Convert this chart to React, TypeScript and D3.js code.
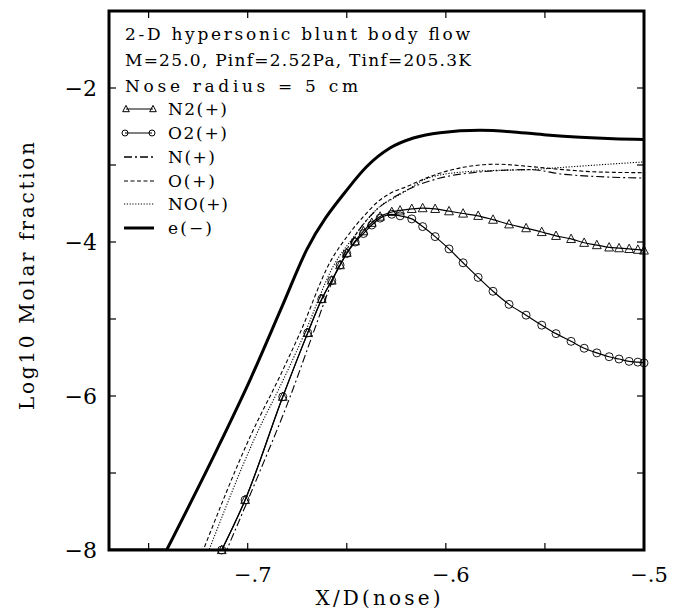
import React from 'react';
import * as d3 from 'd3';

const W = 675;
const H = 614;

// Shared grid (N2(+), O2(+) markers)
const gridX = [-0.7131, -0.7013, -0.6823, -0.6697, -0.6626, -0.6576, -0.6534, -0.6500, -0.6458, -0.6416, -0.6374, -0.6332, -0.6273, -0.6231, -0.6172, -0.6117, -0.6054, -0.5984, -0.5913, -0.5837, -0.5762, -0.5681, -0.5595, -0.5516, -0.5444, -0.5368, -0.5302, -0.5238, -0.5176, -0.5126, -0.5075, -0.5031, -0.5000];
const n2Y = [-8.0, -7.35, -6.01, -5.18, -4.74, -4.50, -4.30, -4.14, -3.99, -3.86, -3.75, -3.67, -3.61, -3.59, -3.57, -3.56, -3.57, -3.60, -3.63, -3.66, -3.71, -3.77, -3.82, -3.87, -3.92, -3.96, -4.01, -4.04, -4.07, -4.08, -4.09, -4.10, -4.11];
const o2Y = [-8.0, -7.35, -6.01, -5.18, -4.74, -4.50, -4.30, -4.15, -4.00, -3.89, -3.78, -3.69, -3.64, -3.66, -3.70, -3.80, -3.93, -4.09, -4.27, -4.46, -4.64, -4.81, -4.95, -5.08, -5.19, -5.29, -5.38, -5.44, -5.49, -5.52, -5.55, -5.56, -5.57];

const nX = [-0.7700, -0.7106, -0.6950, -0.6786, -0.6669, -0.6584, -0.6500, -0.6420, -0.6340, -0.6250, -0.6150, -0.6029, -0.5827, -0.5575, -0.5408, -0.5238, -0.5000];
const nY = [-8.0, -8.0, -7.05, -6.01, -5.18, -4.58, -4.10, -3.78, -3.56, -3.40, -3.27, -3.17, -3.09, -3.06, -3.12, -3.15, -3.17];

const oX = [-0.7700, -0.7224, -0.6988, -0.6837, -0.6736, -0.6584, -0.6490, -0.6416, -0.6340, -0.6282, -0.6197, -0.6080, -0.5912, -0.5743, -0.5575, -0.5407, -0.5238, -0.5000];
const oY = [-8.0, -8.0, -6.53, -5.74, -5.18, -4.26, -3.90, -3.67, -3.47, -3.37, -3.28, -3.15, -3.03, -2.99, -3.02, -3.06, -3.09, -3.10];

const noX = [-0.7700, -0.7195, -0.6965, -0.6815, -0.6715, -0.6565, -0.6470, -0.6400, -0.6330, -0.6270, -0.6197, -0.6100, -0.5912, -0.5743, -0.5575, -0.5407, -0.5238, -0.5000];
const noY = [-8.0, -8.0, -6.55, -5.76, -5.20, -4.30, -3.95, -3.72, -3.53, -3.44, -3.33, -3.18, -3.09, -3.07, -3.06, -3.03, -3.00, -2.96];

const eX = [-0.7700, -0.7409, -0.7156, -0.6988, -0.6827, -0.6702, -0.6492, -0.6399, -0.6282, -0.6164, -0.6029, -0.5827, -0.5659, -0.5491, -0.5322, -0.5154, -0.5000];
const eY = [-8.0, -8.0, -6.70, -5.79, -4.84, -4.10, -3.30, -3.02, -2.78, -2.65, -2.58, -2.55, -2.57, -2.61, -2.64, -2.66, -2.67];

const yTickLabels = [-2, -4, -6, -8];
const yTicks = [-7, -6, -5, -4, -3, -2];
const xTickLabels = [-0.7, -0.6, -0.5];
const xTicks = [-0.75, -0.7, -0.65, -0.6, -0.55];

const titleLines = ['2-D hypersonic blunt body flow', 'M=25.0, Pinf=2.52Pa, Tinf=205.3K', 'Nose radius = 5 cm'];
const titleWidths = [345, 346, 233];
const legendLabels = ['N2(+)', 'O2(+)', 'N(+)', 'O(+)', 'NO(+)', 'e(\u2212)'];
const legendWidths = [59, 59, 47, 47, 60, 44];

const FONT = 'DejaVu Serif';

export default function App() {
  const x = d3.scaleLinear().domain([-0.77, -0.5]).range([109, 644]);
  const y = d3.scaleLinear().domain([-8, -1]).range([550, 11]);
  const line = d3.line<[number, number]>().x(d => x(d[0])).y(d => y(d[1])).curve(d3.curveMonotoneX);
  const zip = (xs: number[], ys: number[]) => xs.map((v, i) => [v, ys[i]] as [number, number]);

  // flat (clamped at -8) lead-in drawn straight, rest smooth
  const seriesPath = (xs: number[], ys: number[]) => {
    const pts = zip(xs, ys);
    if (pts.length > 2 && ys[0] === ys[1]) {
      const rest = line(pts.slice(1)) || '';
      return `M${x(pts[0][0])},${y(pts[0][1])}L` + rest.substring(1);
    }
    return line(pts) || '';
  };

  const n2 = zip(gridX, n2Y);
  const o2 = zip(gridX, o2Y);
  const tri = (cx: number, cy: number, s: number) =>
    `M${cx},${cy - s * 0.6}L${cx + s * 0.55},${cy + s * 0.45}L${cx - s * 0.55},${cy + s * 0.45}Z`;

  const baselines = [40, 66, 92, 115, 139, 163, 187, 210, 234];

  const fmtX = (v: number) => '\u2212.' + Math.round(Math.abs(v) * 10);

  return (
    <svg width={W} height={H} style={{ position: 'absolute', left: 0, top: 0, background: '#fff' }} fontFamily={FONT}>
      <rect x={0} y={0} width={W} height={H} fill="#fff" />
      <defs>
        <clipPath id="plot">
          <rect x={109} y={11} width={535} height={539} />
        </clipPath>
      </defs>
      <g clipPath="url(#plot)" fill="none" stroke="#000">
        <path d={seriesPath(eX, eY)} strokeWidth={3} />
        <path d={seriesPath(oX, oY)} strokeWidth={1.1} strokeDasharray="4,2.5" />
        <path d={seriesPath(noX, noY)} strokeWidth={1.1} strokeDasharray="1.2,1.6" />
        <path d={seriesPath(nX, nY)} strokeWidth={1.1} strokeDasharray="8,3,2,3" />
        <path d={line(o2) || ''} strokeWidth={1.2} />
        <path d={line(n2) || ''} strokeWidth={1.2} />
      </g>
      <g fill="none" stroke="#000" strokeWidth={0.9}>
        {o2.map((d, i) => (
          <circle key={'c' + i} cx={x(d[0])} cy={y(d[1])} r={4} />
        ))}
        {n2.map((d, i) => (
          <path key={'t' + i} d={tri(x(d[0]), y(d[1]), 8)} />
        ))}
      </g>
      {/* frame */}
      <rect x={109} y={11} width={535} height={539} fill="none" stroke="#000" strokeWidth={3} />
      <g stroke="#000" strokeWidth={1.2}>
        {yTicks.map(v => (
          <g key={'yt' + v}>
            <line x1={109} x2={116} y1={y(v)} y2={y(v)} />
            <line x1={644} x2={637} y1={y(v)} y2={y(v)} />
          </g>
        ))}
        {xTicks.map(v => (
          <g key={'xt' + v}>
            <line x1={x(v)} x2={x(v)} y1={550} y2={543} />
            <line x1={x(v)} x2={x(v)} y1={11} y2={18} />
          </g>
        ))}
      </g>
      {yTickLabels.map(v => (
        <text key={'yl' + v} x={97} y={y(v) + 8} textAnchor="end" fontSize={22} fill="#000">
          {'\u2212' + Math.abs(v)}
        </text>
      ))}
      {xTickLabels.map(v => (
        <text key={'xl' + v} x={x(v) + 5} y={582} textAnchor="middle" fontSize={21} fill="#000">
          {fmtX(v)}
        </text>
      ))}
      <text x={378} y={605} textAnchor="middle" fontSize={20} fill="#000" textLength={125} lengthAdjust="spacing">
        X/D(nose)
      </text>
      <text
        transform={`translate(34,276) rotate(-90)`}
        textAnchor="middle"
        fontSize={20}
        fill="#000"
        textLength={268}
        lengthAdjust="spacing"
      >
        Log10 Molar fraction
      </text>
      {titleLines.map((t, i) => (
        <text key={'tl' + i} x={125} y={baselines[i]} fontSize={17} fill="#000" textLength={titleWidths[i]} lengthAdjust="spacing">
          {t}
        </text>
      ))}
      {legendLabels.map((t, i) => {
        const by = baselines[i + 3];
        const cy = by - 6;
        let sym: React.ReactNode = null;
        if (i === 0) {
          sym = (
            <g fill="none" stroke="#000" strokeWidth={1}>
              <line x1={126} x2={153} y1={cy} y2={cy} />
              <path d={tri(126, cy, 6)} />
              <path d={tri(153, cy, 6)} />
            </g>
          );
        } else if (i === 1) {
          sym = (
            <g fill="none" stroke="#000" strokeWidth={1}>
              <line x1={125} x2={152} y1={cy} y2={cy} />
              <circle cx={125} cy={cy} r={3} />
              <circle cx={152} cy={cy} r={3} />
            </g>
          );
        } else if (i === 2) {
          sym = <line x1={124} x2={154} y1={cy} y2={cy} stroke="#000" strokeWidth={1.3} strokeDasharray="8,3,2,3" />;
        } else if (i === 3) {
          sym = <line x1={124} x2={154} y1={cy} y2={cy} stroke="#000" strokeWidth={1.1} strokeDasharray="4,2.5" />;
        } else if (i === 4) {
          sym = <line x1={124} x2={154} y1={cy} y2={cy} stroke="#000" strokeWidth={1.1} strokeDasharray="1.2,1.6" />;
        } else {
          sym = <line x1={124} x2={154} y1={cy} y2={cy} stroke="#000" strokeWidth={3} />;
        }
        return (
          <g key={'lg' + i}>
            {sym}
            <text x={168} y={by} fontSize={17} fill="#000" textLength={legendWidths[i]} lengthAdjust="spacing">
              {t}
            </text>
          </g>
        );
      })}
    </svg>
  );
}
